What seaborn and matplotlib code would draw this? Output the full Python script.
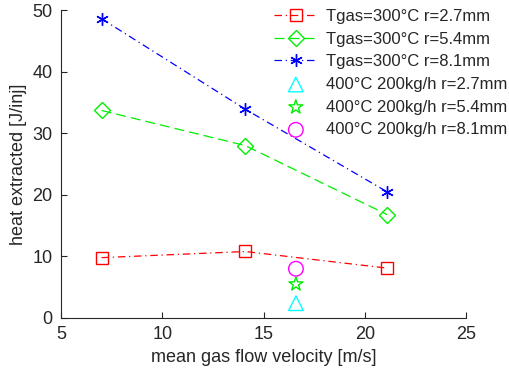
import matplotlib
matplotlib.use("Agg")
import matplotlib.pyplot as plt
import seaborn as sns
import pandas as pd

velocity = [7.0, 14.1, 21.1]
heat_r27 = [9.8, 10.8, 8.1]
heat_r54 = [33.7, 28.0, 16.8]
heat_r81 = [48.6, 33.9, 20.5]

v_400 = [16.6]
heat_400_r27 = [2.4]
heat_400_r54 = [5.5]
heat_400_r81 = [8.0]

sns.set_style("ticks")
plt.rcParams["font.family"] = ["Liberation Sans", "DejaVu Sans"]

fig = plt.figure(figsize=(5.09, 3.75), dpi=100)
ax = fig.add_axes([0.12, 0.152, 0.7955, 0.821])

series = [
    ("Tgas=300°C r=2.7mm", heat_r27, "red", "s", (0, (6, 3, 1, 3))),
    ("Tgas=300°C r=5.4mm", heat_r54, "#00ee00", "D", (0, (8, 4))),
    ("Tgas=300°C r=8.1mm", heat_r81, "blue", (6, 2, 0), (0, (6, 3, 1, 3))),
]
for label, vals, color, marker, ls in series:
    df = pd.DataFrame({"v": velocity, "q": vals})
    sns.lineplot(data=df, x="v", y="q", ax=ax, color=color, linewidth=0.9,
                 linestyle=ls, marker=marker, markersize=9 if marker != "D" else 8,
                 markerfacecolor="none", markeredgecolor=color,
                 markeredgewidth=1.0, label=label)

extras = [
    ("400°C 200kg/h r=2.7mm", heat_400_r27, "cyan", "^"),
    ("400°C 200kg/h r=5.4mm", heat_400_r54, "#00ee00", "*"),
    ("400°C 200kg/h r=8.1mm", heat_400_r81, "magenta", "o"),
]
for label, vals, color, marker in extras:
    df = pd.DataFrame({"v": v_400, "q": vals})
    sns.scatterplot(data=df, x="v", y="q", ax=ax, marker=marker, s=110,
                    facecolors="none", edgecolors=color, linewidths=1.0,
                    label=label)

ax.set_xlim(5, 25)
ax.set_ylim(0, 50)
ax.set_xticks([5, 10, 15, 20, 25])
ax.set_yticks([0, 10, 20, 30, 40, 50])
ax.tick_params(direction="in", labelsize=13, length=4, width=0.8, pad=6)
ax.set_xlabel("mean gas flow velocity [m/s]", fontsize=13, labelpad=4)
ax.set_ylabel("heat extracted [J/inj]", fontsize=13, labelpad=4)
for s in ["top", "right"]:
    ax.spines[s].set_visible(False)
for s in ["left", "bottom"]:
    ax.spines[s].set_linewidth(0.8)

ax.legend(loc="upper left", bbox_to_anchor=(0.518, 1.015), frameon=False,
          fontsize=12.0, handlelength=2.6, labelspacing=0.46,
          handletextpad=0.5, borderaxespad=0.0, borderpad=0.2)

fig.savefig("out.png", dpi=100)
